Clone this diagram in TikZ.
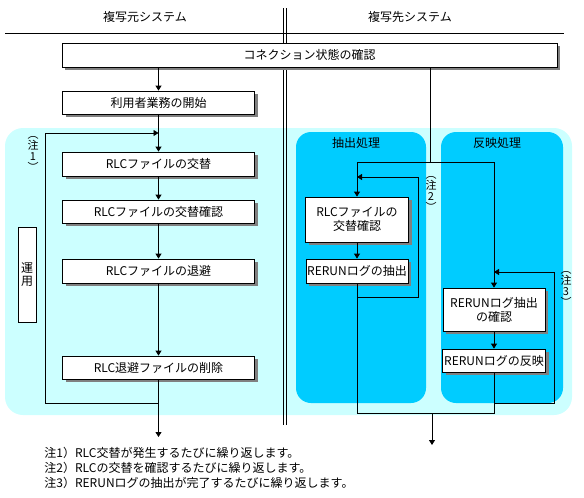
\documentclass[tikz,border=0pt]{standalone}
\usepackage{fontspec}
\newfontfamily\jpfont{Noto Sans CJK JP}
\usepackage{xcolor}
\definecolor{paleblue}{HTML}{CCFFFF}
\definecolor{deepcyan}{HTML}{00CCFF}
\usetikzlibrary{arrows.meta}
\usetikzlibrary{shadows}

\begin{document}
\begin{tikzpicture}[x=1pt, y=-1pt, line width=0.8pt, >={Triangle[width=6pt,length=5pt]}, font=\jpfont\fontsize{12}{14}\selectfont]
\tikzstyle{proc}=[draw=black, fill=white, inner sep=0pt, align=center, drop shadow={shadow xshift=3pt, shadow yshift=-3pt, fill=black!50, opacity=1}]
\tikzstyle{vnote}=[inner sep=0pt, align=center, font=\jpfont\fontsize{11}{11.2}\selectfont]

	\useasboundingbox (0,0) rectangle (584,498);

	%areas
	\fill[paleblue, rounded corners=18pt] (5,128) rectangle (572,415);
	\fill[deepcyan, rounded corners=15pt] (296,132) rectangle (426,403);
	\fill[deepcyan, rounded corners=15pt] (441,132) rectangle (563,403);

	%headers
	\node (src) at (145,17) {複写元システム};
	\node (dst) at (410,17) {複写先システム};
	\draw (5,33) -- (564,33);
	\draw (283,8) -- (283,425);
	\draw (286,8) -- (286,425);
	\node (extr) at (356,143) {抽出処理};
	\node (apply) at (497,143) {反映処理};

	%boxes
	\node[proc, minimum width=495pt, minimum height=24pt] (conn) at (309.5,55) {コネクション状態の確認};
	\node[proc, minimum width=192pt, minimum height=23pt] (start) at (158.5,102.5) {利用者業務の開始};
	\node[proc, minimum width=192pt, minimum height=24pt] (swap) at (158.5,164) {RLCファイルの交替};
	\node[proc, minimum width=192pt, minimum height=23pt] (swapchk) at (158.5,211.5) {RLCファイルの交替確認};
	\node[proc, minimum width=192pt, minimum height=24pt] (save) at (158.5,271) {RLCファイルの退避};
	\node[proc, minimum width=192pt, minimum height=23pt] (del) at (158.5,367.5) {RLC退避ファイルの削除};
	\node[draw, fill=white, inner sep=0pt, align=center, minimum width=18pt, minimum height=95pt, font=\jpfont\fontsize{12}{12.5}\selectfont] (ops) at (27,274.5) {運\\用};

	\node[proc, minimum width=103pt, minimum height=45pt] (rchk) at (357,219.5) {RLCファイルの\\交替確認};
	\node[proc, minimum width=102pt, minimum height=24pt] (rext) at (357,271) {RERUNログの抽出};
	\node[proc, minimum width=102pt, minimum height=43pt] (echk) at (494,309.5) {RERUNログ抽出\\の確認};
	\node[proc, minimum width=103pt, minimum height=23pt] (refl) at (494,360.5) {RERUNログの反映};

	%paths
	\draw[->] (conn.south -| start) -- (start.north);
	\draw[->] (start.south) -- (swap.north);
	\draw[->] (swap.south) -- (swapchk.north);
	\draw[->] (swapchk.south) -- (save.north);
	\draw[->] (save.south) -- (del.north);
	\coordinate (outL) at (158.5,437);
	\draw[->] (del.south) -- (outL);
	\coordinate (l1a) at (158.5,403);
	\coordinate (l1b) at (45,403);
	\coordinate (l1c) at (45,133);
	\coordinate (l1d) at (158.5,133);
	\draw[->] (l1a) -- (l1b) -- (l1c) -- (l1d);

	\coordinate (split) at (430,162);
	\coordinate (sL) at (357,162);
	\coordinate (sR) at (494,162);
	\draw (conn.south -| split) -- (split);
	\draw (sL) -- (sR);
	\draw[->] (sL) -- (rchk.north);
	\draw[->] (sR) -- (echk.north);
	\draw[->] (rchk.south) -- (rext.north);
	\draw[->] (echk.south) -- (refl.north);

	\coordinate (l2a) at (357,297);
	\coordinate (l2b) at (418,297);
	\coordinate (l2c) at (418,177);
	\coordinate (l2d) at (357,177);
	\draw[->] (l2a) -- (l2b) -- (l2c) -- (l2d);
	\coordinate (l3a) at (494,403);
	\coordinate (l3b) at (554,403);
	\coordinate (l3c) at (554,272);
	\coordinate (l3d) at (494,272);
	\draw[->] (l3a) -- (l3b) -- (l3c) -- (l3d);

	\coordinate (jL) at (357,413);
	\coordinate (jR) at (494,413);
	\coordinate (jM) at (432,413);
	\coordinate (outR) at (432,445);
	\draw (rext.south) -- (jL) -- (jR) -- (refl.south);
	\draw[->] (jM) -- (outR);

	%notes
	\node[vnote] (n1) at (33,154) {︵\\注\\1\\︶};
	\node[vnote] (n2) at (431,194) {︵\\注\\2\\︶};
	\node[vnote] (n3) at (566,289) {︵\\注\\3\\︶};
	\node[anchor=west, align=left, inner sep=0pt, font=\jpfont\fontsize{12}{14.7}\selectfont] (notes) at (44,468) {注1）RLC交替が発生するたびに繰り返します。\\注2）RLCの交替を確認するたびに繰り返します。\\注3）RERUNログの抽出が完了するたびに繰り返します。};

\end{tikzpicture}
\end{document}
